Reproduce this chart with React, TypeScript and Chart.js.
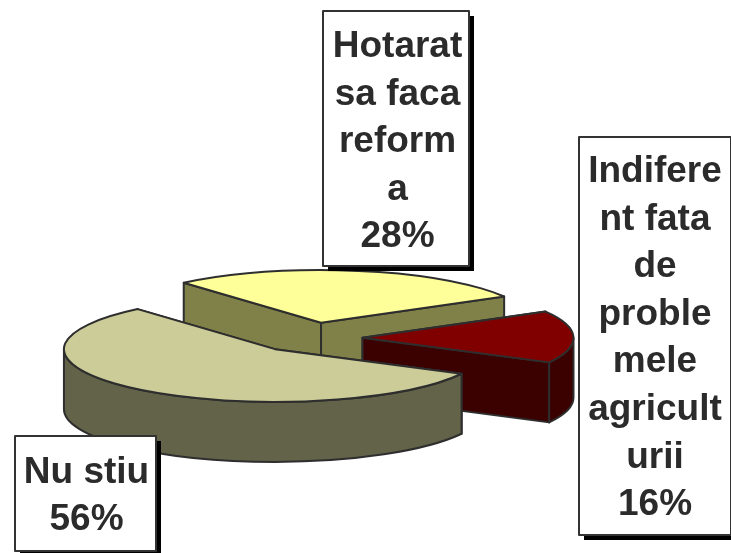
import React, { useEffect, useRef } from "react";
import { Chart, registerables } from "chart.js";

Chart.register(...registerables);

const categories = ["Hotarat sa faca reforma", "Indiferent fata de problemele agriculturii", "Nu stiu"];
const shares = [28, 16, 56];
const labelLines = [
  ["Hotarat", "sa faca", "reform", "a", "28%"],
  ["Indifere", "nt fata", "de", "proble", "mele", "agricult", "urii", "16%"],
  ["Nu stiu", "56%"],
];
const topColors = ["#FFFF99", "#800000", "#CCCC99"];
const sideColors = ["#808049", "#3B0000", "#636349"];
const explode = [62, 52, 57];

const SQUASH = 0.25;
const DEPTH = 60;
const EDGE = "#2E2E2E";
const boxes = [
  { x: 323, y: 11, w: 146, h: 255, tx: 397.5, first: 57, step: 47.5 },
  { x: 579, y: 137, w: 152, h: 398, tx: 655, first: 182, step: 47.6 },
  { x: 15, y: 436, w: 141, h: 115, tx: 86.5, first: 483, step: 47 },
];

const pie3d = {
  id: "pie3d",
  beforeDatasetsDraw(chart: any) {
    const ctx = chart.ctx as CanvasRenderingContext2D;
    const arcs = chart.getDatasetMeta(0).data;
    const TAU = Math.PI * 2;

    const outline = (fill: string, trace: () => void) => {
      ctx.fillStyle = fill;
      ctx.strokeStyle = EDGE;
      ctx.lineWidth = 2;
      ctx.lineJoin = "round";
      ctx.beginPath();
      trace();
      ctx.closePath();
      ctx.fill();
      ctx.stroke();
    };

    arcs.forEach((arc: any, i: number) => {
      const { x, y, startAngle, endAngle, outerRadius } = arc.getProps(
        ["x", "y", "startAngle", "endAngle", "outerRadius"],
        true,
      );
      const mid = (startAngle + endAngle) / 2;
      const d = explode[i];
      const ax = x + Math.cos(mid) * d;
      const ay = y + Math.sin(mid) * d * SQUASH;
      const px = (a: number) => ax + Math.cos(a) * outerRadius;
      const py = (a: number) => ay + Math.sin(a) * outerRadius * SQUASH;
      const ell = (a0: number, a1: number, dy: number, ccw = false) =>
        ctx.ellipse(ax, ay + dy, outerRadius, outerRadius * SQUASH, 0, a0, a1, ccw);

      // Radial faces
      [startAngle, endAngle].forEach((a: number) => {
        outline(sideColors[i], () => {
          ctx.moveTo(ax, ay);
          ctx.lineTo(px(a), py(a));
          ctx.lineTo(px(a), py(a) + DEPTH);
          ctx.lineTo(ax, ay + DEPTH);
        });
      });

      // Curved outer wall: only the part that faces the viewer
      [0, TAU, -TAU].forEach((shift) => {
        const a0 = Math.max(startAngle, shift);
        const a1 = Math.min(endAngle, shift + Math.PI);
        if (a1 <= a0) return;
        outline(sideColors[i], () => {
          ell(a0, a1, 0);
          ell(a1, a0, DEPTH, true);
        });
      });

      // Top face
      outline(topColors[i], () => {
        ctx.moveTo(ax, ay);
        ell(startAngle, endAngle, 0);
      });
    });
    return false;
  },
  afterDraw(chart: any) {
    const ctx = chart.ctx as CanvasRenderingContext2D;
    boxes.forEach((b, i) => {
      ctx.fillStyle = "#000000";
      ctx.fillRect(b.x + 5, b.y + 5, b.w, b.h);
      ctx.fillStyle = "#FFFFFF";
      ctx.fillRect(b.x, b.y, b.w, b.h);
      ctx.strokeStyle = "#333333";
      ctx.lineWidth = 2;
      ctx.strokeRect(b.x, b.y, b.w, b.h);
      ctx.fillStyle = "#2B2B2B";
      ctx.font = 'bold 37px "Liberation Sans", Arial, sans-serif';
      ctx.textAlign = "center";
      ctx.textBaseline = "alphabetic";
      labelLines[i].forEach((line, j) => {
        ctx.fillText(line, b.tx, b.first + j * b.step);
      });
    });
  },
};

export default function App() {
  const ref = useRef<HTMLCanvasElement>(null);
  useEffect(() => {
    document.body.style.margin = "0";
    document.body.style.background = "#FFFFFF";
    const chart = new Chart(ref.current as HTMLCanvasElement, {
      type: "pie",
      data: {
        labels: categories,
        datasets: [{ data: shares, backgroundColor: topColors, borderWidth: 0 }],
      },
      options: {
        responsive: false,
        animation: false,
        rotation: -40.6,
        radius: 211,
        layout: { padding: { left: 0, right: 110, top: 123, bottom: 0 } },
        plugins: { legend: { display: false }, tooltip: { enabled: false } },
      } as any,
      plugins: [pie3d],
    });
    return () => chart.destroy();
  }, []);
  return <canvas ref={ref} width={731} height={553} style={{ display: "block" }} />;
}
